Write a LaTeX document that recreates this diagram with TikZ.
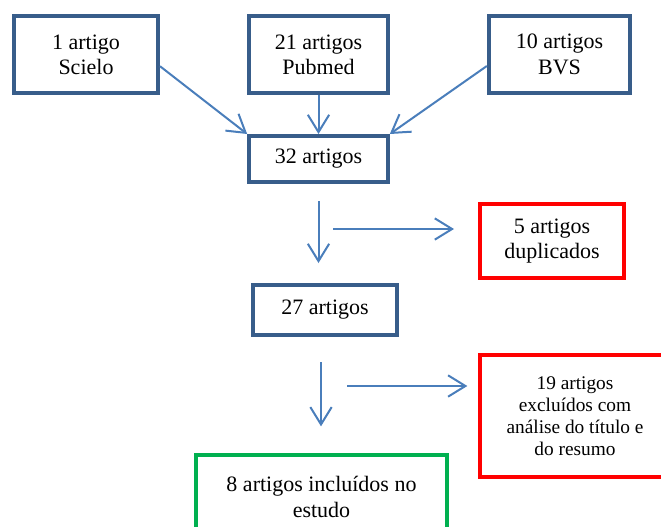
\documentclass[tikz,border=0pt]{standalone}
\usepackage{fontspec}
\setmainfont{Liberation Serif}
\usetikzlibrary{arrows.meta}

\definecolor{boxblue}{RGB}{56,93,138}
\definecolor{arrowblue}{RGB}{74,126,187}
\definecolor{outred}{RGB}{255,0,0}
\definecolor{ingreen}{RGB}{0,176,80}

\tikzset{every picture/.style={line width=0.75pt},
  countbox/.style={draw=boxblue, line width=3pt, align=center, inner sep=0pt, font=\fontsize{16.5}{19}\selectfont},
  dropbox/.style={countbox, draw=outred},
  keepbox/.style={countbox, draw=ingreen},
  flowarrow/.style={draw=arrowblue, line width=1.5pt, -{Straight Barb[length=13pt,width=16pt,line width=1.5pt]}}
}

\begin{document}
\begin{tikzpicture}[x=0.75pt,y=0.75pt,yscale=-1,xscale=1]
    \path[use as bounding box] (0,0) rectangle (661,526);
    \clip (0,0) rectangle (661,526);

    % Source boxes
    \node [countbox, minimum width=108pt, minimum height=58pt] (scielo) at (86,54.5) {1 artigo\\Scielo};
    \node [countbox, minimum width=104pt, minimum height=58pt] (pubmed) at (318.5,54.5) {21 artigos\\Pubmed};
    \node [countbox, minimum width=106pt, minimum height=58pt] (bvs) at (559.5,54.5) {10 artigos\\BVS};
    % Counts
    \node [countbox, minimum width=104pt, minimum height=34.5pt] (art32) at (318.5,159) {32 artigos};
    \node [countbox, minimum width=108pt, minimum height=37.5pt] (art27) at (325,310) {27 artigos};
    % Excluded
    \node [dropbox, minimum width=108pt, minimum height=55.5pt] (dup) at (552,241) {5 artigos\\duplicados};
    \node [dropbox, minimum width=142.5pt, minimum height=91.5pt, font=\fontsize{14.5}{16.5}\selectfont] (excl) at (575,416) {19 artigos\\excluídos com\\análise do título e\\do resumo};
    % Included
    \node [keepbox, minimum width=188pt, minimum height=63pt] (incl) at (321.5,497) {8 artigos incluídos no\\estudo};

    \coordinate (split1) at (333,229);
    \coordinate (split2) at (347,386);

    %Straight Lines
    \draw [flowarrow] (scielo.-9) -- (art32.north west);
    \draw [flowarrow] (pubmed.south) -- (art32.north);
    \draw [flowarrow] (bvs.189) -- (art32.north east);
    %Straight Lines
    \draw [flowarrow, shorten <=13pt, shorten >=15pt] (art32.south) -- (art32.south |- art27.north);
    \draw [flowarrow, shorten >=18pt] (split1) -- (split1 -| dup.west);
    %Straight Lines
    \draw [flowarrow, shorten <=19pt, shorten >=20pt] ([xshift=-3pt]art27.south) -- ([xshift=-3pt]art27.south |- incl.north);
    \draw [flowarrow, shorten >=8pt] (split2) -- (split2 -| excl.west);

\end{tikzpicture}
\end{document}
